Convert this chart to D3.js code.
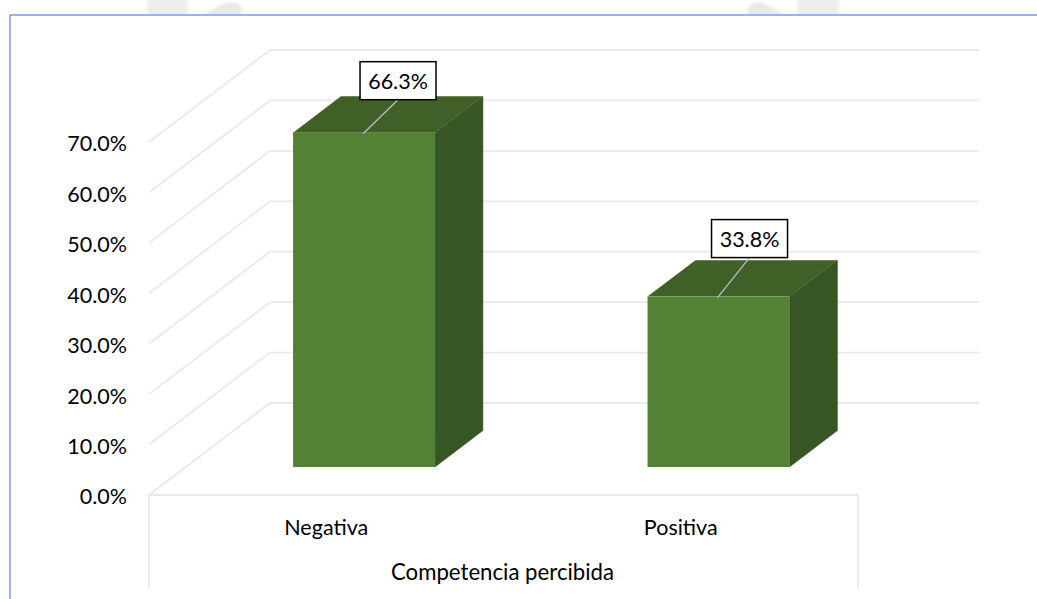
<!DOCTYPE html>
<html>
<head>
<meta charset="utf-8">
<script src="https://cdn.jsdelivr.net/npm/d3@7"></script>
<style>
  body { margin: 0; background: #fff; }
  text { font-family: Lato, sans-serif; fill: #000; }
</style>
</head>
<body>
<svg id="canvas"></svg>
<script>
let categories = ['Negativa', 'Positiva'];
let values = [66.3, 33.8];
let valueLabels = ['66.3%', '33.8%'];
let yTicks = [0, 10, 20, 30, 40, 50, 60, 70];
let axisTitle = 'Competencia percibida';

let width = 1037;
let height = 599;

let svg = d3.select('#canvas').attr('width', width).attr('height', height);

let xScale = d3.scaleBand().domain(categories).range([149, 858]);
let yScale = d3.scaleLinear().domain([0, 70]).range([495, 142]);

// depth of the 3d box, front plane to back wall
let depthX = 121;
let depthY = -92;
let barFront = 0.304;
let barBack = 0.70;
let barWidth = 142;
let barNudge = 1;
let gridColor = '#e6e9ef';
let fontSize = 21.5;

// callout box position relative to the bar's top centre, one per bar
let calloutShift = [[34, -71], [31, -77]];

let px = (x, d) => x + depthX * d;
let py = (y, d) => y + depthY * d;

// watermark scraps above the frame
let defs = svg.append('defs');
defs.append('filter').attr('id', 'soft')
  .append('feGaussianBlur').attr('stdDeviation', 1.5);
defs.append('clipPath').attr('id', 'aboveFrame')
  .append('rect').attr('width', width).attr('height', 14);

let wm = svg.append('g').attr('clip-path', 'url(#aboveFrame)')
  .append('g').attr('filter', 'url(#soft)').attr('fill', '#eceeec');
wm.append('rect').attr('x', 147).attr('y', -4).attr('width', 41).attr('height', 22);
wm.append('path').attr('d', 'M200,18 Q212,8 226,3 Q238,1 243,8 L240,18 Z').attr('fill', '#e8eae8');
wm.append('path').attr('d', 'M746,18 Q746,2 760,2 Q772,6 788,18 Z').attr('fill', '#e8eae8');
wm.append('rect').attr('x', 797).attr('y', -4).attr('width', 42).attr('height', 22);

// frame
svg.append('path')
  .attr('d', 'M1037,15 H10 V599')
  .attr('fill', 'none')
  .attr('stroke', '#76a1dc')
  .attr('stroke-width', 1.5);

// walls: back lines and diagonals
let grid = svg.append('g').attr('fill', 'none').attr('stroke', gridColor).attr('stroke-width', 1.8);
grid.selectAll('path')
  .data(yTicks)
  .enter()
  .append('path')
  .attr('d', d => 'M' + xScale.range()[0] + ',' + yScale(d)
    + ' L' + px(xScale.range()[0], 1) + ',' + py(yScale(d), 1)
    + ' H' + px(xScale.range()[1], 1));

// floor front edge and the category axis brackets
let axisBottom = 588;
grid.append('path')
  .attr('d', 'M' + xScale.range()[0] + ',' + axisBottom + ' V' + yScale(0) + ' H' + xScale.range()[1] + ' V' + axisBottom);

// bars
let bars = svg.selectAll('.bar')
  .data(categories.map((c, i) => ({ cat: c, val: values[i], label: valueLabels[i], shift: calloutShift[i] })))
  .enter()
  .append('g')
  .attr('class', 'bar');

let left = d => px(xScale(d.cat) + xScale.bandwidth() / 2, barFront) - barWidth / 2 + barNudge;
let right = d => left(d) + barWidth;
let shift = (barBack - barFront);

bars.append('path')
  .attr('fill', '#375623')
  .attr('stroke', '#375623')
  .attr('stroke-width', 0.5)
  .attr('d', d => {
    let top = py(yScale(d.val), barFront);
    let bot = py(yScale(0), barFront);
    return 'M' + right(d) + ',' + top
      + ' L' + px(right(d), shift) + ',' + py(top, shift)
      + ' V' + py(bot, shift)
      + ' L' + right(d) + ',' + bot + ' Z';
  });

bars.append('path')
  .attr('fill', '#416027')
  .attr('d', d => {
    let top = py(yScale(d.val), barFront);
    return 'M' + left(d) + ',' + top
      + ' L' + px(left(d), shift) + ',' + py(top, shift)
      + ' H' + px(right(d), shift)
      + ' L' + right(d) + ',' + top + ' Z';
  });

bars.append('rect')
  .attr('fill', '#548235')
  .attr('x', d => left(d))
  .attr('width', barWidth)
  .attr('y', d => py(yScale(d.val), barFront))
  .attr('height', d => yScale(0) - yScale(d.val));

// value callouts
let boxW = 76;
let boxH = 38;
let boxX = d => left(d) + barWidth / 2 + d.shift[0] - boxW / 2;
let boxY = d => py(yScale(d.val), barFront) + d.shift[1];

bars.append('line')
  .attr('stroke', '#b5bdc9')
  .attr('stroke-width', 1.3)
  .attr('x1', d => left(d) + barWidth / 2 - 1)
  .attr('y1', d => py(yScale(d.val), barFront) + 1)
  .attr('x2', d => boxX(d) + boxW / 2)
  .attr('y2', d => boxY(d) + boxH);

bars.append('rect')
  .attr('fill', '#fff')
  .attr('stroke', '#000')
  .attr('stroke-width', 1.5)
  .attr('x', d => boxX(d))
  .attr('y', d => boxY(d))
  .attr('width', boxW)
  .attr('height', boxH);

bars.append('text')
  .attr('text-anchor', 'middle')
  .attr('font-size', fontSize)
  .attr('x', d => boxX(d) + boxW / 2)
  .attr('y', d => boxY(d) + 27)
  .text(d => d.label);

// y axis, labels only
let yAxis = d3.axisLeft(yScale)
  .tickValues(yTicks)
  .tickSize(0)
  .tickPadding(22)
  .tickFormat(d => d.toFixed(1) + '%');

let yG = svg.append('g').attr('transform', 'translate(149,2)').call(yAxis);
yG.select('.domain').remove();
yG.selectAll('text').attr('font-size', fontSize).style('font-family', 'Lato, sans-serif').attr('fill', '#000');

// x axis, labels only
let xAxis = d3.axisBottom(xScale).tickSize(0).tickPadding(25);
let xG = svg.append('g').attr('transform', 'translate(0,' + yScale(0) + ')').call(xAxis);
xG.select('.domain').remove();
xG.selectAll('text').attr('font-size', fontSize).style('font-family', 'Lato, sans-serif').attr('fill', '#000');

svg.append('text')
  .attr('text-anchor', 'middle')
  .attr('font-size', 22.2)
  .attr('x', (xScale.range()[0] + xScale.range()[1]) / 2 - 1)
  .attr('y', 580)
  .text(axisTitle);
</script>
</body>
</html>
